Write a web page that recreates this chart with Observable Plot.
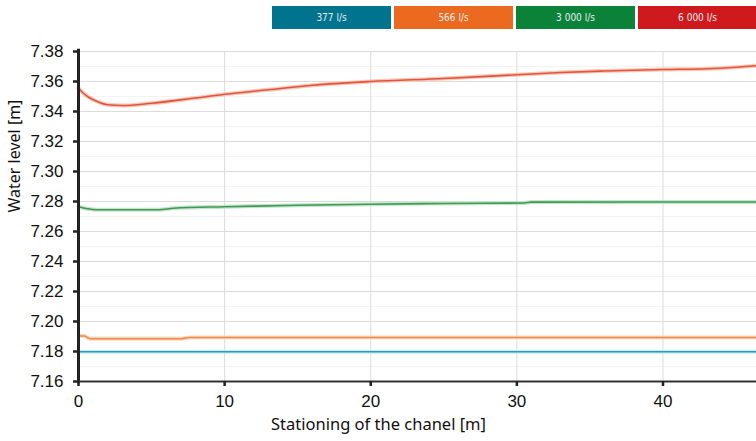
<!DOCTYPE html>
<html><head><meta charset="utf-8">
<script src="https://cdn.jsdelivr.net/npm/d3@7"></script>
<script src="https://cdn.jsdelivr.net/npm/@observablehq/plot@0.6"></script>
<style>
body{margin:0;background:#fff;font-family:"Liberation Sans",Arial,sans-serif;}
#wrap{position:relative;width:756px;height:441px;}
#legend{position:absolute;top:6px;left:272px;display:flex;gap:3px;z-index:2;}
#legend div{width:119px;height:23px;line-height:23px;text-align:center;color:#e8eef0;font-size:10px;font-family:"DejaVu Sans Condensed","DejaVu Sans",sans-serif;}
</style></head>
<body><div id="wrap"><div id="legend"></div></div>
<script>
const seriesNames = ["377 l/s", "566 l/s", "3 000 l/s", "6 000 l/s"];
const legendColors = ["#00748f", "#ec6a1f", "#0a8339", "#d0191d"];
const lineColors = ["#2e9ab2", "#ef8a4c", "#3f9a55", "#e2553c"];
const lineHalo = ["#c6edf6", "#fbd8c0", "#c6e4cc", "#f8c8b8"];

const x377 = [0, 46.4];
const y377 = [7.1798, 7.1798];
const x566 = [0, 0.4, 0.8, 7, 7.6, 46.4];
const y566 = [7.1905, 7.1903, 7.1885, 7.1885, 7.1893, 7.1893];
const x3000 = [0, 0.6, 1.2, 5.5, 6.5, 10, 15, 20, 25, 30.5, 31, 46.4];
const y3000 = [7.2765, 7.2752, 7.2745, 7.2745, 7.2755, 7.2765, 7.2775, 7.2782, 7.2787, 7.2790, 7.2796, 7.2797];
const x6000 = [0, 0.3, 0.7, 1.2, 2, 3, 5, 8, 10, 13, 16, 20, 25, 30, 33, 36, 40, 43, 45, 46.4];
const y6000 = [7.3555, 7.3525, 7.3495, 7.3470, 7.3445, 7.3440, 7.3455, 7.3490, 7.3515, 7.3545, 7.3575, 7.3600, 7.3620, 7.3645, 7.3660, 7.3670, 7.3680, 7.3685, 7.3695, 7.3705];

const xTicks = [0, 10, 20, 30, 40];
const yTicks = [7.16, 7.18, 7.20, 7.22, 7.24, 7.26, 7.28, 7.30, 7.32, 7.34, 7.36, 7.38];
const yMinor = [7.17, 7.19, 7.21, 7.23, 7.25, 7.27, 7.29, 7.31, 7.33, 7.35, 7.37];
const xLabel = "Stationing of the chanel [m]";
const yLabel = "Water level [m]";

const xs = [x377, x566, x3000, x6000];
const ys = [y377, y566, y3000, y6000];
const data = [];
xs.forEach((xa, i) => xa.forEach((xv, j) => data.push({s: seriesNames[i], x: xv, y: ys[i][j], i})));

const lg = document.getElementById("legend");
seriesNames.forEach((n, i) => {const d = document.createElement("div"); d.style.background = legendColors[i]; d.textContent = n; lg.appendChild(d);});

const labelFont = '"Noto Sans", "Open Sans", sans-serif';
const chart = Plot.plot({
  width: 756, height: 441,
  marginTop: 51, marginBottom: 60, marginLeft: 78, marginRight: 0,
  style: {fontFamily: '"Liberation Sans", Arial, sans-serif', fontSize: "17px", color: "#111", background: "transparent"},
  x: {type: "linear", domain: [0, 46.4]},
  y: {type: "linear", domain: [7.16, 7.38]},
  marks: [
    Plot.ruleY(yMinor, {stroke: "#f3f3f3", strokeWidth: 1}),
    Plot.ruleY(yTicks, {stroke: "#dcdcdc", strokeWidth: 1}),
    Plot.ruleX(xTicks, {stroke: "#dcdcdc", strokeWidth: 1}),
    ...seriesNames.map((n, i) => Plot.line(data.filter(d => d.i === i), {x: "x", y: "y", stroke: lineHalo[i], strokeWidth: 4, curve: "monotone-x"})),
    ...seriesNames.map((n, i) => Plot.line(data.filter(d => d.i === i), {x: "x", y: "y", stroke: lineColors[i], strokeWidth: 1.6, curve: "monotone-x"})),
    Plot.ruleX([0], {stroke: "#222", strokeWidth: 3, y1: 7.1585, y2: 7.3815}),
    Plot.ruleY([7.16], {stroke: "#333", strokeWidth: 2}),
    Plot.axisY({ticks: yTicks, tickFormat: d3.format(".2f"), tickSize: 5, tickPadding: 10, stroke: "#222", strokeWidth: 2.5, fontSize: 17, label: null}),
    Plot.axisX({ticks: xTicks, tickSize: 5, tickPadding: 8, stroke: "#222", strokeWidth: 2.5, fontSize: 17, label: null}),
    Plot.text([xLabel], {text: d => d, frameAnchor: "bottom", dx: -39, dy: 48, fontSize: 16.5, fontFamily: labelFont, fill: "#111"}),
    Plot.text([yLabel], {text: d => d, frameAnchor: "left", rotate: -90, dx: -64, dy: -4, fontSize: 16, fontFamily: labelFont, fill: "#111"})
  ]
});
document.getElementById("wrap").prepend(chart);
chart.style.position = "absolute"; chart.style.left = "0"; chart.style.top = "0";
</script></body></html>
